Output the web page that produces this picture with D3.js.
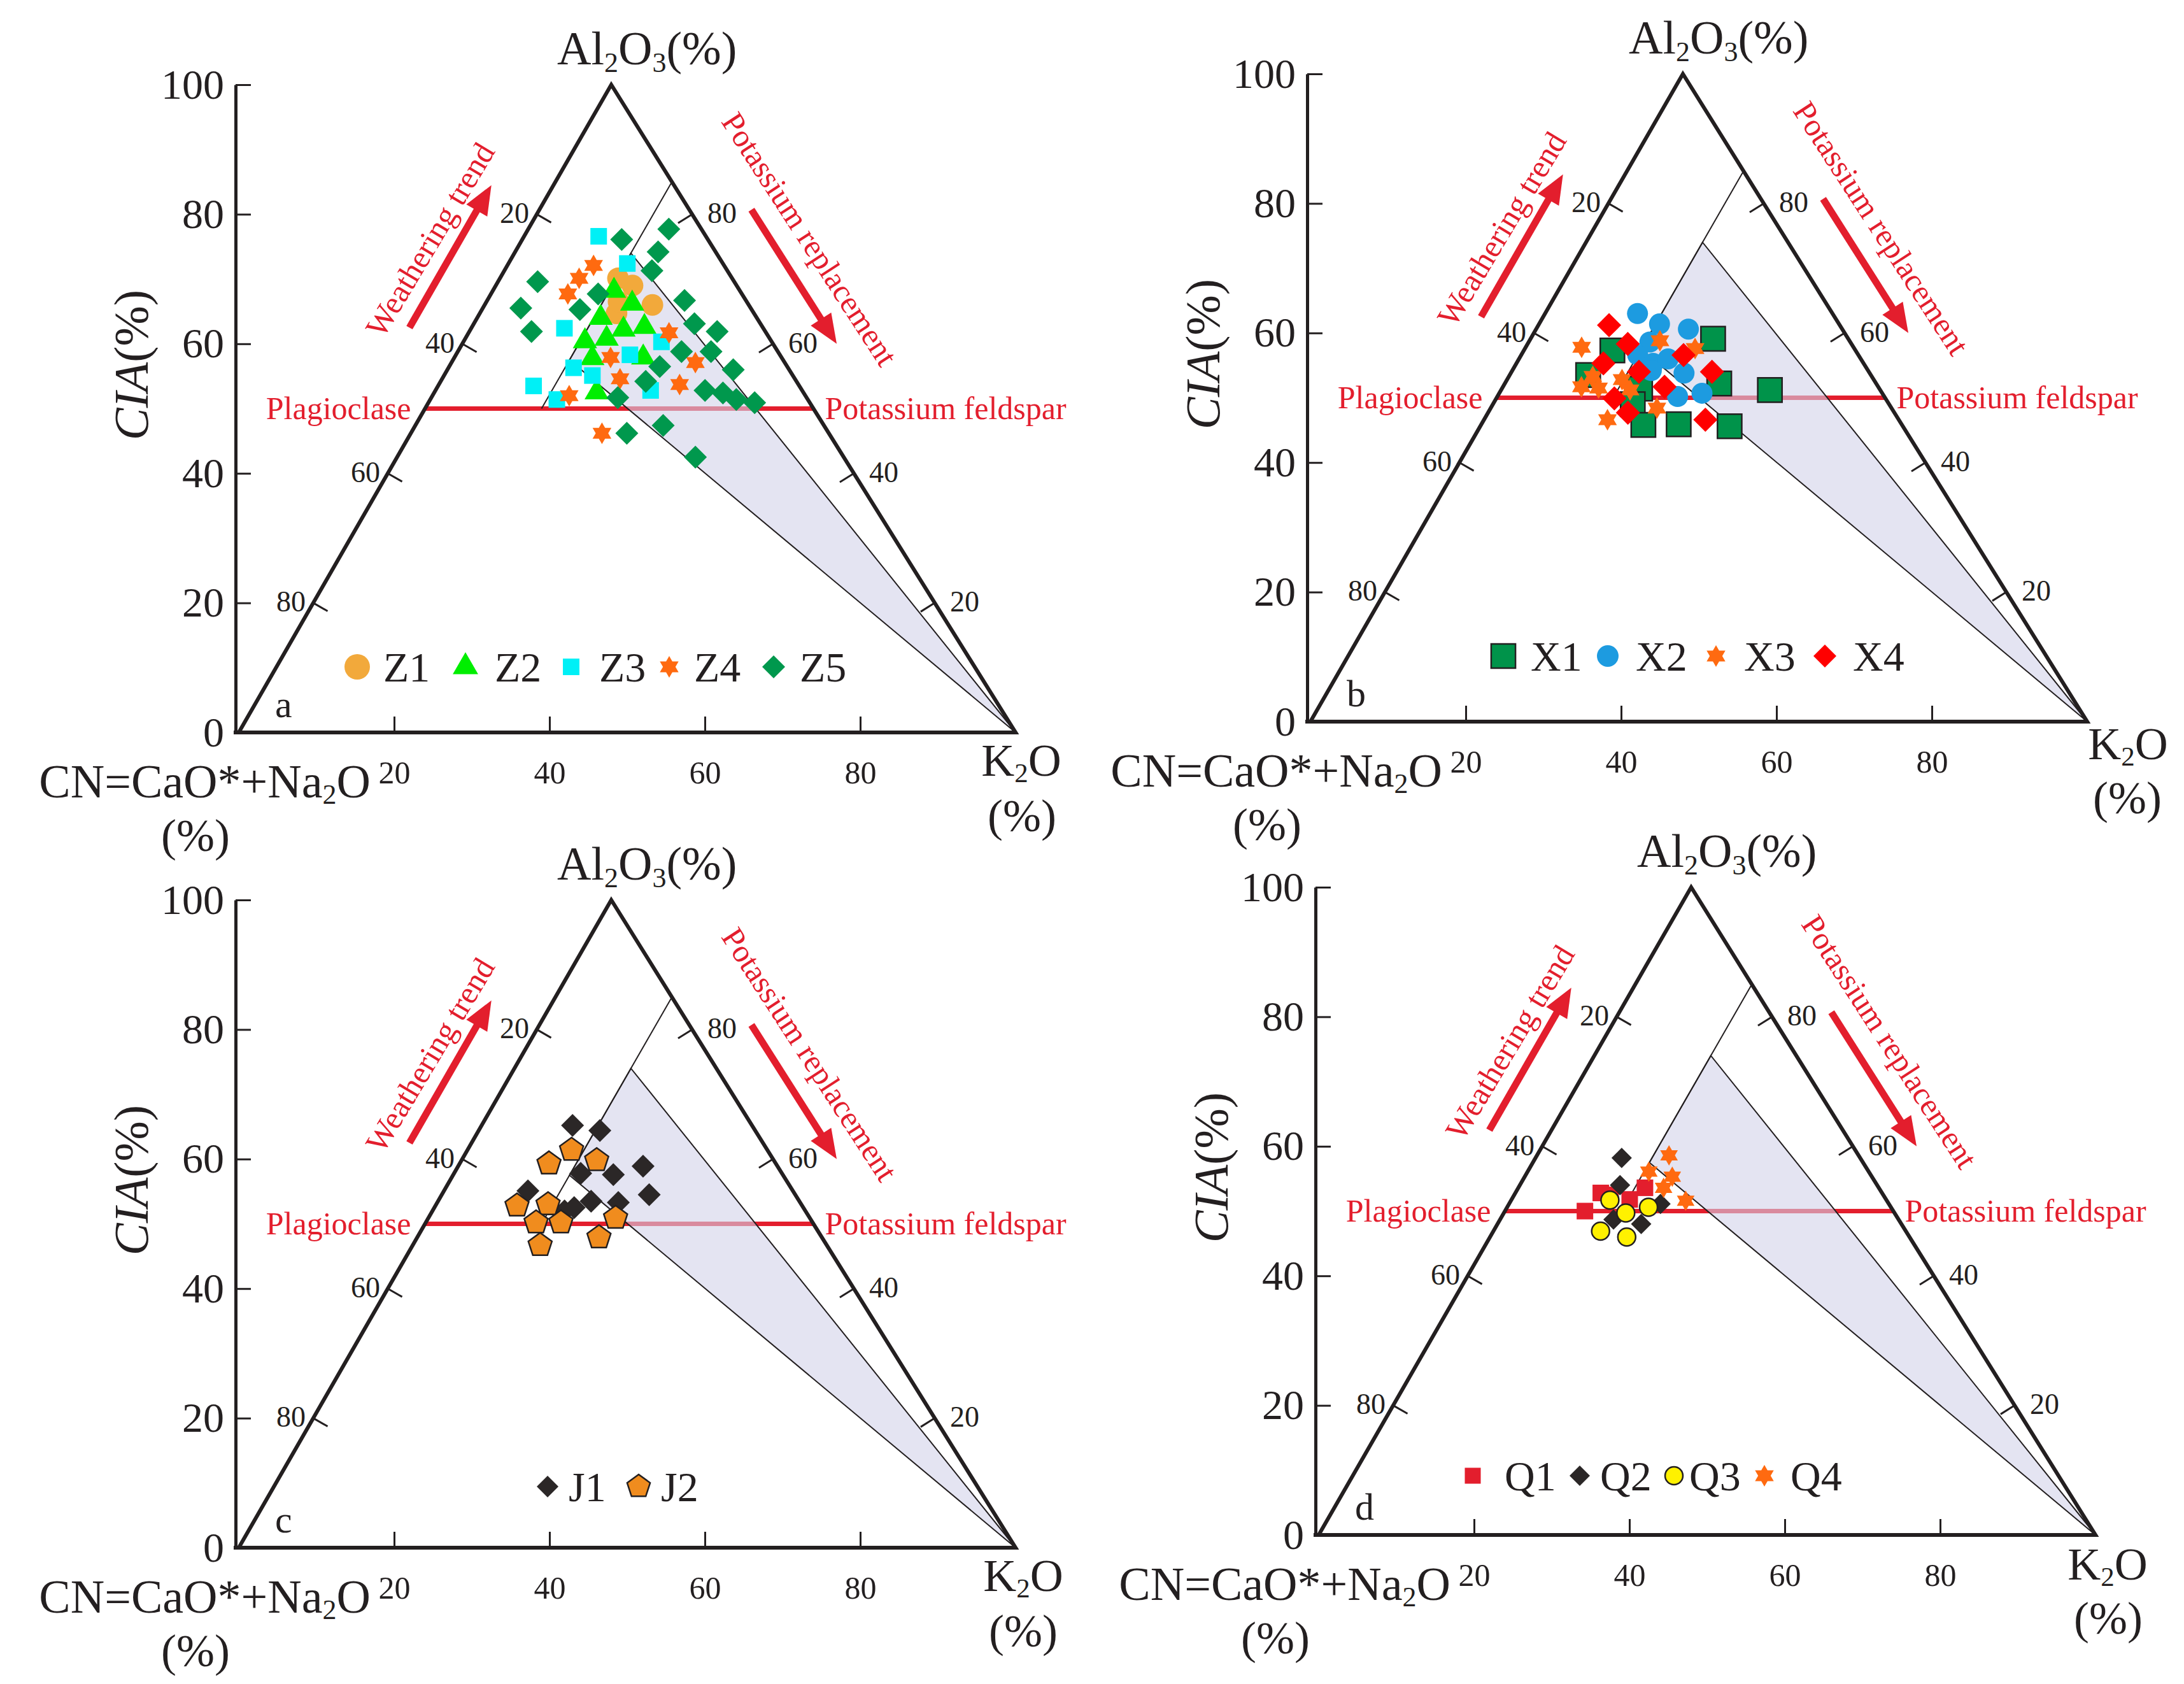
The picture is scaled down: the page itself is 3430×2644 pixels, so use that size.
<!DOCTYPE html>
<html>
<head>
<meta charset="utf-8">
<script src="https://cdn.jsdelivr.net/npm/d3@7"></script>
<style>
  body { margin: 0; background: #fff; }
  text { font-family: "Liberation Serif", "Times New Roman", serif; }
</style>
</head>
<body>
<svg id="chart" width="3430" height="2644"></svg>
<script>
// Every sample is [Al2O3 %, K2O %]; CN = CaO* + Na2O = 100 - Al2O3 - K2O

// panel a
const z1 = [[70.1, 15.2], [69.0, 17.6], [66.0, 21.6], [64.7, 17.6], [66.5, 17.0]];
const z2 = [[68.2, 15.6], [66.2, 18.9], [64.0, 15.9], [62.2, 19.7], [62.6, 22.2],
            [60.4, 15.6], [60.8, 18.2], [57.8, 17.8], [57.9, 24.3], [52.5, 20.9]];
const z3 = [[76.6, 9.6], [72.4, 15.3], [62.4, 12.0], [60.3, 25.5], [58.3, 22.4],
            [56.3, 16.1], [55.1, 19.1], [53.5, 12.3], [52.8, 27.7], [51.4, 16.3]];
const z4 = [[72.1, 11.1], [70.1, 10.2], [67.7, 9.9], [61.7, 25.8], [57.9, 20.1],
            [57.1, 31.4], [54.6, 22.9], [53.7, 31.0], [52.0, 17.6], [46.2, 24.6]];
const z5 = [[77.7, 18.1], [76.1, 12.8], [74.2, 18.4], [71.3, 19.0], [69.6, 5.1],
            [67.7, 13.8], [65.5, 4.9], [65.3, 12.6], [66.7, 25.4], [61.9, 8.0],
            [63.1, 28.4], [61.9, 31.9], [58.8, 28.8], [58.8, 32.6], [56.5, 27.1],
            [56.0, 36.8], [54.2, 26.4], [52.8, 34.7], [52.4, 37.2], [51.4, 39.4],
            [50.9, 42.0], [51.7, 24.0], [47.4, 31.9], [46.2, 27.8], [42.5, 38.4]];

// panel b
const x1 = [[59.1, 23.5], [57.3, 11.4], [53.5, 10.1], [52.2, 27.6], [51.2, 34.6],
            [51.4, 17.8], [49.0, 18.0], [45.8, 20.9], [45.9, 25.4], [45.6, 32.1]];
const x2 = [[63.0, 11.9], [61.4, 15.5], [60.6, 19.6], [58.6, 15.6], [56.6, 15.0],
            [55.3, 17.6], [56.0, 19.2], [53.8, 22.3], [54.2, 17.9], [50.2, 23.2], [50.7, 26.1]];
const x3 = [[57.8, 7.2], [58.8, 16.8], [57.6, 21.9], [53.3, 10.8], [51.7, 10.1],
            [51.5, 12.4], [52.8, 14.8], [51.2, 16.6], [48.4, 21.4], [46.6, 15.9]];
const x4 = [[61.2, 9.1], [58.3, 12.9], [55.3, 11.2], [56.6, 20.9], [54.0, 16.4],
            [54.0, 25.8], [51.7, 20.8], [49.9, 15.2], [47.7, 18.0], [46.6, 28.5]];

// panel c
const j1 = [[65.2, 11.7], [64.4, 15.6], [58.9, 23.8], [57.8, 16.3], [57.6, 20.6], [55.1, 10.8],
            [54.5, 26.7], [53.5, 19.7], [53.3, 23.3], [52.5, 18.0], [52.0, 17.0]];
const j2 = [[61.4, 13.4], [59.3, 11.5], [59.8, 17.4], [52.8, 10.5], [53.0, 14.4],
            [50.2, 14.2], [50.2, 17.4], [50.9, 24.1], [46.7, 16.4], [47.9, 23.4]];

// panel d
const q1 = [[52.8, 11.0], [50.0, 10.3], [53.6, 16.3], [51.8, 15.2], [52.5, 12.4]];
const q2 = [[58.2, 11.1], [54.0, 12.9], [51.1, 19.5], [48.7, 14.6], [48.0, 18.5]];
const q3 = [[51.7, 12.7], [49.7, 15.7], [50.6, 18.2], [46.9, 13.8], [46.0, 17.6]];
const q4 = [[58.6, 17.0], [56.1, 15.6], [55.3, 19.0], [53.6, 18.7], [51.6, 22.5]];

// axes
const ciaTicks = [0, 20, 40, 60, 80, 100];
const edgeTicks = [20, 40, 60, 80];

// reference lines, ternary [Al2O3, K2O]
const kLine = [[85, 15], [50, 15]];
const shadeArea = [[74, 15], [57.5, 15], [0, 100]];
const feldsparLine = [[50, 0], [50, 50]];

const INK = "#231f20";
const RED = "#e31e2d";

// triangle corners of one panel (local px), panels are translated copies
const L = {x: 375, y: 1150}, T = {x: 960, y: 133}, R = {x: 1595, y: 1150};

const panels = [
  {letter: "a", dx: 0, dy: 0, legendY: 1047, kLab: [9, 10, 1218, 1305], series: [
    {name: "Z1", data: z1, shape: "circle", r: 17, fill: "#f2a93b", lr: 20, lx: [561, 602]},
    {name: "Z2", data: z2, shape: "triangle", r: 22, fill: "#00ee00", lr: 23, lx: [731, 777]},
    {name: "Z3", data: z3, shape: "square", r: 18.4, fill: "#00f0f6", lr: 18.4, lx: [897, 941]},
    {name: "Z4", data: z4, shape: "star", r: 17, fill: "#ff6a10", lr: 17, lx: [1051, 1090]},
    {name: "Z5", data: z5, shape: "diamond", r: 18, fill: "#00984d", lr: 18, lx: [1215, 1256]}
  ]},
  {letter: "b", dx: 1683, dy: -17, legendY: 1047, kLab: [64, 63, 1209, 1294], series: [
    {name: "X1", data: x1, shape: "square", r: 27, fill: "#00934a", stroke: INK, lr: 27, lx: [678, 721]},
    {name: "X2", data: x2, shape: "circle", r: 16.5, fill: "#1d9be0", lr: 17, lx: [842, 886]},
    {name: "X3", data: x3, shape: "star", r: 17, fill: "#ff6a10", lr: 17, lx: [1012, 1056]},
    {name: "X4", data: x4, shape: "diamond", r: 19, fill: "#ff0000", lr: 18, lx: [1183, 1227]}
  ]},
  {letter: "c", dx: 0, dy: 1280, legendY: 1054, kLab: [12, 12, 1218, 1305], series: [
    {name: "J1", data: j1, shape: "diamond", r: 18, fill: "#2b2727", lr: 17, lx: [860, 893]},
    {name: "J2", data: j2, shape: "pentagon", r: 19.5, fill: "#f08c1e", stroke: INK, lr: 19, lx: [1003, 1038]}
  ]},
  {letter: "d", dx: 1696, dy: 1260, legendY: 1057, kLab: [19, 20, 1220, 1305], series: [
    {name: "Q1", data: q1, shape: "square", r: 18.4, fill: "#e31e2d", lr: 17.7, lx: [617, 667]},
    {name: "Q2", data: q2, shape: "diamond", r: 16, fill: "#2b2727", lr: 16, lx: [785, 817]},
    {name: "Q3", data: q3, shape: "circle", r: 14, fill: "#fff100", stroke: INK, lr: 14, lx: [933, 957]},
    {name: "Q4", data: q4, shape: "star", r: 16, fill: "#ff6a10", lr: 17, lx: [1075, 1116]}
  ]}
];

// marker shapes as d3 symbol types, size = radius squared
function polygonType(n, rot) {
  return {draw(ctx, size) {
    const r = Math.sqrt(size);
    for (let i = 0; i < n; i++) {
      const a = rot + i * 2 * Math.PI / n;
      if (i) ctx.lineTo(r * Math.sin(a), -r * Math.cos(a));
      else ctx.moveTo(r * Math.sin(a), -r * Math.cos(a));
    }
    ctx.closePath();
  }};
}
const hexagram = {draw(ctx, size) {
  const r = Math.sqrt(size), ri = r / Math.sqrt(3);
  for (let i = 0; i < 12; i++) {
    const a = i * Math.PI / 6, rr = i % 2 ? ri : r;
    if (i) ctx.lineTo(rr * Math.sin(a), -rr * Math.cos(a));
    else ctx.moveTo(rr * Math.sin(a), -rr * Math.cos(a));
  }
  ctx.closePath();
}};
const roundDot = {draw(ctx, size) {
  const r = Math.sqrt(size);
  ctx.moveTo(r, 0);
  ctx.arc(0, 0, r, 0, 2 * Math.PI);
}};
const shapes = {
  circle: roundDot,
  triangle: polygonType(3, 0),
  square: polygonType(4, Math.PI / 4),
  diamond: polygonType(4, 0),
  pentagon: polygonType(5, 0),
  star: hexagram
};

const svg = d3.select("#chart");
svg.append("rect").attr("width", 3430).attr("height", 2644).attr("fill", "#fff");

panels.forEach(drawPanel);

function drawPanel(p) {
  const g = svg.append("g").attr("transform", "translate(" + p.dx + "," + p.dy + ")");

  // ternary scales: y from Al2O3, x from K2O plus the lean of the apex
  const yA = d3.scaleLinear().domain([0, 100]).range([L.y, T.y]);
  const xK = d3.scaleLinear().domain([0, 100]).range([L.x, R.x]);
  const xA = d3.scaleLinear().domain([0, 100]).range([0, T.x - L.x]);
  const pos = d => [xK(d[1]) + xA(d[0]), yA(d[0])];
  const line = d3.line().x(d => pos(d)[0]).y(d => pos(d)[1]);

  // plagioclase - potassium feldspar join
  g.append("path").attr("d", line(feldsparLine))
    .attr("stroke", RED).attr("stroke-width", 7).attr("fill", "none");

  // shaded field, laid over the red join
  g.append("path").attr("d", line(shadeArea) + "Z")
    .attr("fill", "#d2d2e9").attr("fill-opacity", 0.6)
    .attr("stroke", INK).attr("stroke-width", 2);
  g.append("path").attr("d", line(kLine))
    .attr("stroke", INK).attr("stroke-width", 2).attr("fill", "none");

  // CIA axis
  const yAxis = g.append("g")
    .attr("transform", "translate(" + (L.x - 5) + ",0)")
    .style("color", INK)
    .call(d3.axisLeft(yA).tickValues(ciaTicks).tickSizeInner(-24).tickSizeOuter(0).tickPadding(18));
  yAxis.attr("font-size", 66);
  yAxis.select(".domain").attr("stroke-width", 5);
  yAxis.selectAll(".tick line").attr("stroke-width", 3);

  // K2O ticks along the base
  const xAxis = g.append("g")
    .attr("transform", "translate(0," + L.y + ")")
    .style("color", INK)
    .call(d3.axisBottom(xK).tickValues(edgeTicks).tickSizeInner(-25).tickSizeOuter(0).tickPadding(44));
  xAxis.attr("font-size", 50);
  xAxis.select(".domain").attr("stroke-width", 6).attr("d", "M" + (L.x - 8) + ",0H" + R.x);
  xAxis.selectAll(".tick line").attr("stroke-width", 3);

  // triangle
  g.append("path")
    .attr("d", line([[0, 0], [100, 0], [0, 100]]) + "Z")
    .attr("fill", "none").attr("stroke", INK).attr("stroke-width", 6)
    .attr("stroke-linejoin", "miter");

  // ticks on the two slanted sides
  const lenL = Math.hypot(T.x - L.x, T.y - L.y), lenR = Math.hypot(T.x - R.x, T.y - R.y);
  const nL = [-(T.y - L.y) / lenL, (T.x - L.x) / lenL];
  const nR = [(T.y - R.y) / lenR, -(T.x - R.x) / lenR];
  edgeTicks.forEach(v => {
    const a = pos([100 - v, 0]);
    g.append("line").attr("x1", a[0]).attr("y1", a[1])
      .attr("x2", a[0] + 26 * nL[0]).attr("y2", a[1] + 26 * nL[1])
      .attr("stroke", INK).attr("stroke-width", 3);
    g.append("text").attr("x", a[0] - 12).attr("y", a[1]).attr("dy", "0.3em")
      .attr("text-anchor", "end").attr("font-size", 46).attr("fill", INK).text(v);
    const b = pos([v, 100 - v]);
    g.append("line").attr("x1", b[0]).attr("y1", b[1])
      .attr("x2", b[0] + 26 * nR[0]).attr("y2", b[1] + 26 * nR[1])
      .attr("stroke", INK).attr("stroke-width", 3);
    g.append("text").attr("x", b[0] + 24).attr("y", b[1]).attr("dy", "0.3em")
      .attr("font-size", 46).attr("fill", INK).text(v);
  });

  // trend arrows
  arrow(g, pos([62.5, -8]), pos([84.5, -8]));
  arrow(g, pos([80.7, 27.3]), pos([60, 48.2]));
  const wt = pos([76.1, -11.9]);
  g.append("text").attr("transform", "translate(" + wt + ") rotate(-59)")
    .attr("text-anchor", "middle").attr("dy", "0.35em")
    .attr("font-size", 50).attr("fill", RED).text("Weathering trend");
  const kt = pos([76.2, 37.0]);
  g.append("text").attr("transform", "translate(" + kt + ") rotate(57)")
    .attr("text-anchor", "middle").attr("dy", "0.35em")
    .attr("font-size", 50).attr("fill", RED).text("Potassium replacement");

  const pl = pos(feldsparLine[0]), kf = pos(feldsparLine[1]);
  g.append("text").attr("x", pl[0] - 22).attr("y", pl[1]).attr("dy", "0.33em")
    .attr("text-anchor", "end").attr("font-size", 50).attr("fill", RED).text("Plagioclase");
  g.append("text").attr("x", kf[0] + 18).attr("y", kf[1]).attr("dy", "0.33em")
    .attr("font-size", 50).attr("fill", RED).text("Potassium feldspar");

  // samples
  p.series.forEach(s => {
    g.append("g").selectAll("path").data(s.data).join("path")
      .attr("transform", d => "translate(" + pos(d) + ")")
      .attr("d", d3.symbol().type(shapes[s.shape]).size(s.r * s.r))
      .attr("fill", s.fill)
      .attr("stroke", s.stroke || "none")
      .attr("stroke-width", s.stroke ? 2.5 : 0);
  });

  // legend
  p.series.forEach(s => {
    g.append("path")
      .attr("transform", "translate(" + s.lx[0] + "," + p.legendY + ")")
      .attr("d", d3.symbol().type(shapes[s.shape]).size(s.lr * s.lr))
      .attr("fill", s.fill)
      .attr("stroke", s.stroke || "none")
      .attr("stroke-width", s.stroke ? 2.5 : 0);
    g.append("text").attr("x", s.lx[1]).attr("y", p.legendY + 23)
      .attr("font-size", 66).attr("fill", INK).text(s.name);
  });

  g.append("text").attr("x", 432).attr("y", 1126)
    .attr("font-size", 60).attr("fill", INK).text(p.letter);

  // corner labels
  const top = g.append("text").attr("x", 875).attr("y", 101).attr("font-size", 74).attr("fill", INK);
  top.append("tspan").text("Al");
  top.append("tspan").attr("font-size", 44).attr("dy", 12).text("2");
  top.append("tspan").attr("dy", -12).text("O");
  top.append("tspan").attr("font-size", 44).attr("dy", 12).text("3");
  top.append("tspan").attr("dy", -12).text("(%)");

  const cn = g.append("text").attr("x", 582).attr("y", 1252).attr("text-anchor", "end")
    .attr("font-size", 74).attr("fill", INK);
  cn.append("tspan").text("CN=CaO*+Na");
  cn.append("tspan").attr("font-size", 44).attr("dy", 10).text("2");
  cn.append("tspan").attr("dy", -10).text("O");
  g.append("text").attr("x", 307).attr("y", 1336).attr("text-anchor", "middle")
    .attr("font-size", 72).attr("fill", INK).text("(%)");

  const k = g.append("text").attr("x", R.x + p.kLab[0]).attr("y", p.kLab[2])
    .attr("text-anchor", "middle").attr("font-size", 72).attr("fill", INK);
  k.append("tspan").text("K");
  k.append("tspan").attr("font-size", 43).attr("dy", 10).text("2");
  k.append("tspan").attr("dy", -10).text("O");
  g.append("text").attr("x", R.x + p.kLab[1]).attr("y", p.kLab[3])
    .attr("text-anchor", "middle").attr("font-size", 72).attr("fill", INK).text("(%)");

  const cia = g.append("text").attr("transform", "translate(232,573) rotate(-90)")
    .attr("text-anchor", "middle").attr("font-size", 76).attr("fill", INK);
  cia.append("tspan").attr("font-style", "italic").text("CIA");
  cia.append("tspan").text("(%)");
}

function arrow(g, from, to) {
  const dx = to[0] - from[0], dy = to[1] - from[1], len = Math.hypot(dx, dy);
  const ux = dx / len, uy = dy / len, head = 46, half = 19;
  const bx = to[0] - ux * head, by = to[1] - uy * head;
  g.append("line").attr("x1", from[0]).attr("y1", from[1])
    .attr("x2", bx + ux * 4).attr("y2", by + uy * 4)
    .attr("stroke", RED).attr("stroke-width", 11);
  g.append("path")
    .attr("d", "M" + to + "L" + [bx - uy * half, by + ux * half] + "L" + [bx + uy * half, by - ux * half] + "Z")
    .attr("fill", RED);
}
</script>
</body>
</html>
